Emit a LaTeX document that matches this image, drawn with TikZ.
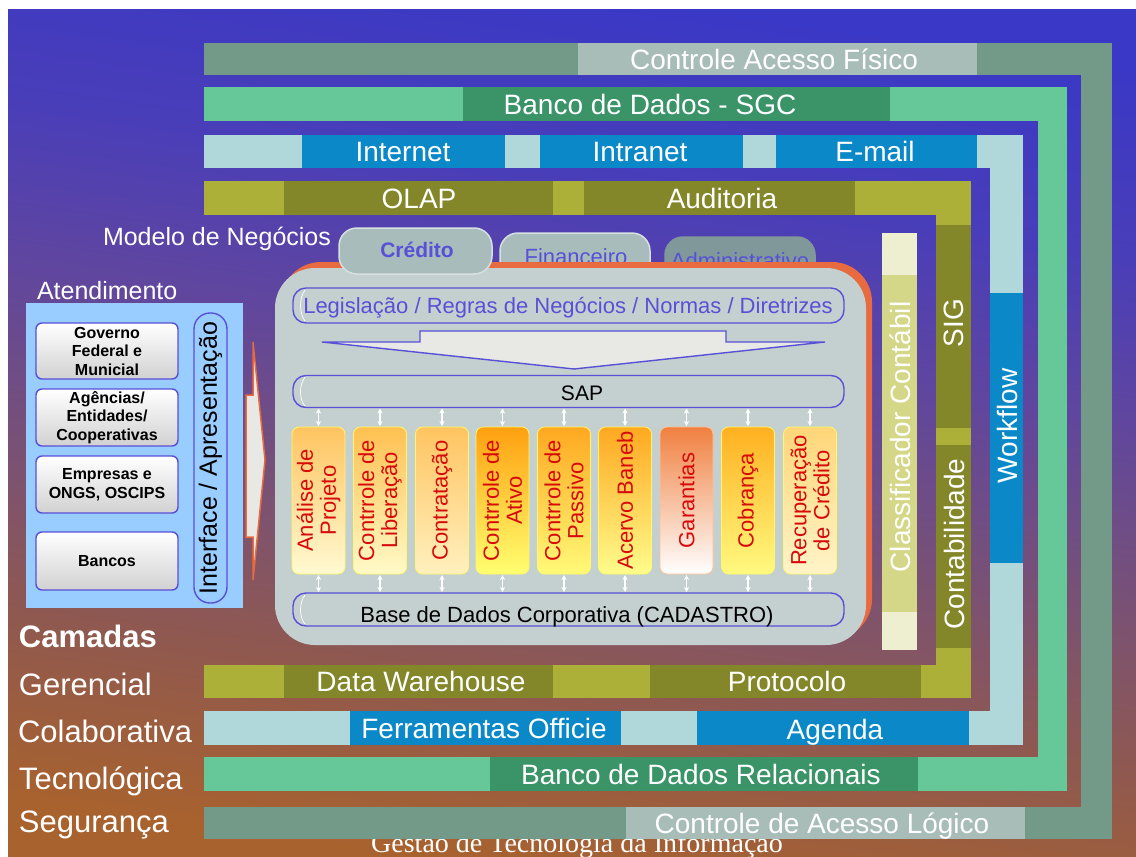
\documentclass[tikz,border=0pt]{standalone}
\usepackage{fontspec}
\setmainfont{Liberation Sans}
\newfontfamily\footerfont{Liberation Serif}
\usetikzlibrary{arrows.meta}

% layer colours
\definecolor{segdark}{RGB}{115,154,136}
\definecolor{seglight}{RGB}{168,188,184}
\definecolor{tecl}{RGB}{102,200,152}
\definecolor{tecd}{RGB}{58,148,104}
\definecolor{coll}{RGB}{176,216,218}
\definecolor{cold}{RGB}{10,136,200}
\definecolor{gerl}{RGB}{172,176,56}
\definecolor{gerd}{RGB}{132,134,42}
\definecolor{clsl}{RGB}{238,238,208}
\definecolor{clsm}{RGB}{212,214,136}
% business model block
\definecolor{boxgray}{RGB}{196,208,208}
\definecolor{boxorange}{RGB}{232,106,64}
\definecolor{tabgray}{RGB}{168,188,188}
\definecolor{tabdark}{RGB}{128,152,154}
\definecolor{tabedge}{RGB}{214,224,224}
\definecolor{ink}{RGB}{88,80,214}
\definecolor{arrowfill}{RGB}{232,232,228}
\definecolor{panelblue}{RGB}{153,204,255}
\definecolor{modred}{RGB}{214,10,10}
% backdrop
\definecolor{bgA}{RGB}{58,56,198}
\definecolor{bgB}{RGB}{74,62,184}
\definecolor{bgC}{RGB}{96,70,158}
\definecolor{bgD}{RGB}{118,80,122}
\definecolor{bgE}{RGB}{142,88,82}
\definecolor{bgF}{RGB}{168,98,46}

\pgfdeclareverticalshading{backdrop}{100bp}{%
  color(0bp)=(bgF); color(25bp)=(bgF); color(36bp)=(bgE); color(46bp)=(bgD);
  color(55bp)=(bgC); color(64bp)=(bgB); color(75bp)=(bgA); color(100bp)=(bgA)}

\tikzset{
  lbl/.style={inner sep=0pt, outer sep=0pt, text=white, font=\fontsize{28}{30}\selectfont},
  barlbl/.style={lbl, anchor=base},
  vlbl/.style={lbl, rotate=90, anchor=center},
  layer/.style={inner sep=0pt, anchor=base west, text=white, font=\fontsize{31}{34}\selectfont},
  heading/.style={inner sep=0pt, anchor=base west, text=white, font=\fontsize{25}{27}\selectfont},
  footer/.style={inner sep=0pt, anchor=base, text=white, font=\footerfont\fontsize{28}{30}\selectfont},
  tabshape/.style={rounded corners=18pt, line width=1.5pt},
  tabtext/.style={inner sep=0pt, anchor=base, text=ink, font=\fontsize{22}{24}\selectfont},
  pipe/.style={draw=ink, line width=1.4pt, rounded corners=13pt, inner sep=0pt, minimum width=551pt},
  pipeend/.style={white, line width=0.7pt},
  pipetext/.style={inner sep=0pt, anchor=base, font=\fontsize{22}{24}\selectfont},
  module/.style={rotate=90, minimum width=147pt, minimum height=53pt, inner sep=1pt,
    rounded corners=7pt, line width=0.8pt, align=center, text=modred,
    font=\fontsize{22}{23}\selectfont},
  dbl/.style={{Stealth[length=5pt,width=5pt]}-{Stealth[length=5pt,width=5pt]}, white, line width=1.3pt},
  client/.style={minimum width=142pt, rounded corners=6pt, draw=ink, line width=1.4pt,
    top color=white, bottom color=black!18, align=center,
    font=\bfseries\fontsize{16}{18.5}\selectfont},
}

\begin{document}
\begin{tikzpicture}[x=1pt, y=-1pt, every node/.style={inner sep=0pt, outer sep=0pt}]
\useasboundingbox (0,0) rectangle (1136,857);
\fill[white] (0,0) rectangle (1136,857);
\shade[shading=backdrop, shading angle=-8] (8,9) rectangle (1136,857);

% footer title, partly hidden under the lowest band
\node[footer] (footer) at (577,852) {Gestão de Tecnologia da Informação};

% ---------- Segurança ----------
\fill[segdark] (204,43) rectangle (1112,75);
\fill[segdark] (1081,43) rectangle (1112,839);
\fill[segdark] (204,807) rectangle (1112,839);
\fill[seglight] (578,43) rectangle (977,75);
\fill[seglight] (626,807) rectangle (1025,839);
\node[barlbl] (fisico) at (774,69) {Controle Acesso Físico};
\node[barlbl] (logico) at (822,833) {Controle de Acesso Lógico};

% ---------- Tecnológica ----------
\fill[tecl] (204,87) rectangle (1067,121);
\fill[tecl] (1038,87) rectangle (1067,791);
\fill[tecl] (204,757) rectangle (1067,791);
\fill[tecd] (463,87) rectangle (890,121);
\fill[tecd] (490,757) rectangle (918,791);
\node[barlbl] (sgc) at (650,114) {Banco de Dados - SGC};
\node[barlbl] (relac) at (701,784) {Banco de Dados Relacionais};

% ---------- Colaborativa ----------
\fill[coll] (204,135) rectangle (1023,168);
\fill[coll] (990,135) rectangle (1023,745);
\fill[coll] (204,711) rectangle (1023,745);
\fill[cold] (302,135) rectangle (505,168);
\fill[cold] (540,135) rectangle (743,168);
\fill[cold] (776,135) rectangle (977,168);
\fill[cold] (990,293) rectangle (1023,563);
\fill[cold] (350,711) rectangle (621,745);
\fill[cold] (697,711) rectangle (969,745);
\node[barlbl] (internet) at (403,161.5) {Internet};
\node[barlbl] (intranet) at (640,161.5) {Intranet};
\node[barlbl] (email) at (875,161.5) {E-mail};
\node[vlbl] (workflow) at (1007,426) {Workflow};
\node[barlbl] (office) at (484,738) {Ferramentas Officie};
\node[barlbl] (agenda) at (835,739) {Agenda};

% ---------- Gerencial ----------
\fill[gerl] (204,181) rectangle (971,215);
\fill[gerl] (936,181) rectangle (971,698);
\fill[gerl] (204,665) rectangle (971,698);
\fill[gerd] (284,181) rectangle (553,215);
\fill[gerd] (584,181) rectangle (855,215);
\fill[gerd] (936,225) rectangle (971,428);
\fill[gerd] (936,445) rectangle (971,648);
\fill[gerd] (284,665) rectangle (553,698);
\fill[gerd] (650,665) rectangle (921,698);
\node[barlbl] (olap) at (419,208) {OLAP};
\node[barlbl] (auditoria) at (722,208) {Auditoria};
\node[vlbl] (sig) at (954,323) {SIG};
\node[vlbl] (contab) at (954,544) {Contabilidade};
\node[barlbl] (dw) at (421,691.5) {Data Warehouse};
\node[barlbl] (protocolo) at (787,691.5) {Protocolo};

% ---------- Classificador Contábil ----------
\fill[clsl] (882,233) rectangle (917,650);
\fill[clsm] (882,275) rectangle (917,612);
\node[vlbl] (classif) at (900,437) {Classificador Contábil};

% ---------- layer names ----------
\node[layer, font=\bfseries\fontsize{31}{34}\selectfont] (camadas) at (19,647) {Camadas};
\node[layer] (gerencial) at (19,695) {Gerencial};
\node[layer] (colab) at (18,742) {Colaborativa};
\node[layer] (tecno) at (19,789) {Tecnológica};
\node[layer] (seguranca) at (19,832) {Segurança};

% ---------- business model ----------
\node[heading] (modelo) at (103,245) {Modelo de Negócios};

% back tabs
\filldraw[tabshape, fill=tabgray, draw=tabedge] (500,233) rectangle (650,290);
\node[tabtext] (financeiro) at (576,264) {Financeiro};
\filldraw[tabshape, fill=tabdark, draw=tabdark] (665,237) rectangle (815,290);
\node[tabtext] (admin) at (740,268) {Administrativo};

% main block with its orange rim
\fill[boxorange, rounded corners=40pt] (281,262) rectangle (872,639);
\fill[boxgray, rounded corners=40pt] (275,268) rectangle (866,645);

% front tab
\filldraw[tabshape, fill=tabgray, draw=tabedge] (339,228) rectangle (492,274);
\node[tabtext, font=\bfseries\fontsize{21}{24}\selectfont] (credito) at (417,257) {Crédito};

% rules, SAP and corporate base
\node[pipe, minimum height=35pt] (legis) at (568.5,305.5) {};
\draw[pipeend] (305,290) .. controls (299,298) and (299,313) .. (305,321);
\node[pipetext, text=ink] (legistext) at (568,313) {Legislação / Regras de Negócios / Normas / Diretrizes};

\filldraw[fill=arrowfill, draw=ink, line width=1.4pt, line join=miter]
  (322,342) -- (420,342) -- (420,331) -- (726,331) -- (726,342) -- (825,342) -- (574,369) -- cycle;

\node[pipe, minimum height=32pt] (sap) at (568.5,391.5) {};
\draw[pipeend] (305,377) .. controls (299,385) and (299,399) .. (305,406);
\node[pipetext, font=\fontsize{21}{24}\selectfont] (saptext) at (582,400) {SAP};

\node[pipe, minimum height=33pt] (base) at (568.5,609.5) {};
\draw[pipeend] (305,595) .. controls (299,603) and (299,617) .. (305,624);
\node[pipetext] (basetext) at (567,622) {Base de Dados Corporativa (CADASTRO)};

% credit modules
\node[module, draw=yellow!60!white, top color={rgb,255:red,255;green,196;blue,96}, bottom color={rgb,255:red,255;green,250;blue,210}] (m1) at (318.5,500.5) {Análise de\\Projeto};
\node[module, draw=yellow!60!white, top color={rgb,255:red,255;green,192;blue,80}, bottom color={rgb,255:red,255;green,250;blue,200}] (m2) at (380,500.5) {Contrrole de\\Liberação};
\node[module, draw=yellow!60!white, top color={rgb,255:red,255;green,196;blue,96}, bottom color={rgb,255:red,255;green,240;blue,190}] (m3) at (442,500.5) {Contratação};
\node[module, draw=yellow!60!white, top color={rgb,255:red,255;green,160;blue,16}, bottom color={rgb,255:red,255;green,255;blue,112}] (m4) at (502.5,500.5) {Contrrole de\\Ativo};
\node[module, draw=yellow!60!white, top color={rgb,255:red,255;green,168;blue,32}, bottom color={rgb,255:red,255;green,250;blue,120}] (m5) at (564,500.5) {Contrrole de\\Passivo};
\node[module, draw=yellow!60!white, top color={rgb,255:red,255;green,168;blue,32}, bottom color={rgb,255:red,255;green,252;blue,140}] (m6) at (625,500.5) {Acervo Baneb};
\node[module, draw={rgb,255:red,255;green,192;blue,144}, top color={rgb,255:red,240;green,128;blue,64}, bottom color=white] (m7) at (686.5,500.5) {Garantias};
\node[module, draw=yellow!60!white, top color={rgb,255:red,255;green,176;blue,32}, bottom color={rgb,255:red,255;green,250;blue,128}] (m8) at (748,500.5) {Cobrança};
\node[module, draw=yellow!60!white, top color={rgb,255:red,255;green,214;blue,120}, bottom color={rgb,255:red,255;green,244;blue,200}] (m9) at (810,500.5) {Recuperação\\de Crédito};

\foreach \m in {m1,m2,m3,m4,m5,m6,m7,m8,m9}{
  \draw[dbl] ([yshift=-1pt]sap.south -| \m.center) -- ([yshift=1pt]\m.east);
  \draw[dbl] ([yshift=-1pt]\m.west) -- ([yshift=1pt]base.north -| \m.center);
}

% ---------- customer service ----------
\node[heading] (atend) at (37,299) {Atendimento};
\node[fill=panelblue, minimum width=217pt, minimum height=305pt] (panel) at (134.5,455.5) {};
\node[client, minimum height=56pt] (gov) at (107,351) {Governo\\Federal e\\Municial};
\node[client, minimum height=57pt] (agencias) at (107,417.5) {Agências/\\Entidades/\\Cooperativas};
\node[client, minimum height=57pt] (empresas) at (107,484.5) {Empresas e\\ONGS, OSCIPS};
\node[client, minimum height=58pt] (bancos) at (107,561) {Bancos};
\node[draw=ink, line width=1.4pt, rounded corners=16pt, minimum width=290pt, minimum height=33pt,
  rotate=90, font=\fontsize{25}{27}\selectfont] (iface) at (210.5,458) {Interface / Apresentação};

% hand-over arrow into the business model
\filldraw[fill=arrowfill, draw=boxorange, line width=1.5pt, line join=miter]
  (246,395) -- (253,395) -- (253,342) -- (265,460) -- (253,580) -- (253,537) -- (246,537) -- cycle;
\end{tikzpicture}
\end{document}
